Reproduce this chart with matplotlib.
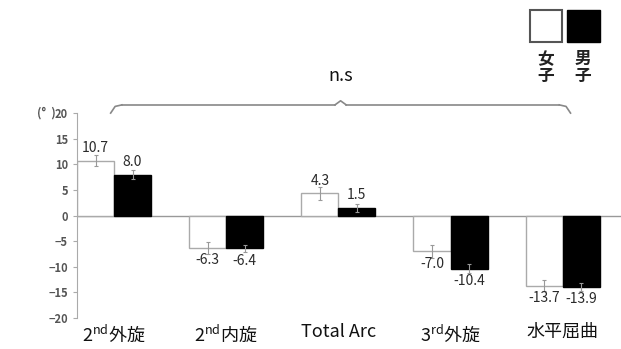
import matplotlib
matplotlib.use('Agg')
import matplotlib.pyplot as plt
from matplotlib.patches import Rectangle
import numpy as np

plt.rcParams['font.family'] = ['Noto Sans CJK JP', 'DejaVu Sans']
plt.rcParams['mathtext.fontset'] = 'custom'
plt.rcParams['mathtext.rm'] = 'Noto Sans CJK JP'

# data
categories = ['2$^{\\mathrm{nd}}$外旋', '2$^{\\mathrm{nd}}$内旋', 'Total Arc', '3$^{\\mathrm{rd}}$外旋', '水平屈曲']
female = [10.7, -6.3, 4.3, -7.0, -13.7]
male = [8.0, -6.4, 1.5, -10.4, -13.9]
female_err = [1.1, 1.2, 1.2, 1.2, 1.1]
male_err = [0.8, 0.7, 0.8, 0.9, 0.8]
yticks = [-20, -15, -10, -5, 0, 5, 10, 15, 20]

fig = plt.figure(figsize=(6.21, 3.49), dpi=100)
ax = fig.add_axes([0.124, 0.089, 0.876, 0.587])

x = np.arange(len(categories))
w = 0.33
grey = '#999999'
ax.bar(x - w / 2, female, w, color='white', edgecolor='#aaaaaa', linewidth=1.0, zorder=2)
ax.bar(x + w / 2, male, w, color='black', edgecolor='black', linewidth=1.0, zorder=2)
ax.errorbar(x - w / 2, female, yerr=female_err, fmt='none', ecolor=grey, elinewidth=0.8,
            capsize=1.5, capthick=0.8, zorder=3)
ax.errorbar(x + w / 2, male, yerr=male_err, fmt='none', ecolor=grey, elinewidth=0.8,
            capsize=1.5, capthick=0.8, zorder=3)

for xs, vals in [(x - w / 2, female), (x + w / 2, male)]:
    for xi, v in zip(xs, vals):
        if v >= 0:
            ax.annotate(f'{v:.1f}', (xi, v), xytext=(0, 4), textcoords='offset points',
                        ha='center', va='bottom', fontsize=10, color='#2a2a2a')
        else:
            ax.annotate(f'{v:.1f}', (xi, v), xytext=(0, -4), textcoords='offset points',
                        ha='center', va='top', fontsize=10, color='#2a2a2a')

ax.axhline(0, color='#999999', linewidth=1.0, zorder=1)
ax.set_xlim(-0.33, 4.52)
ax.set_ylim(-20, 20)
ax.set_yticks(yticks)
ax.tick_params(axis='y', labelcolor='#555555', labelsize=8, length=3, width=0.8, color='#aaaaaa')
for lab in ax.get_yticklabels():
    lab.set_fontweight('bold')
ax.set_xticks([])
for s in ['top', 'right', 'bottom']:
    ax.spines[s].set_visible(False)
ax.spines['left'].set_color('#aaaaaa')
ax.spines['left'].set_linewidth(0.8)

# category labels below the axes
for xi, lab in zip(x, categories):
    ax.text(xi, -21.0, lab, ha='center', va='top', fontsize=13, color='#111111',
            clip_on=False)

# unit label
fig.text(0.075, 0.676, '(°  )', ha='center', va='center', fontsize=8.5, color='#555555',
         fontweight='bold')

# brace with n.s
bx0, bx1, bmid = -0.03, 4.07, 2.02
by, bh = 21.6, 1.6
bc = '#888888'
ax.plot([bx0, bx0 + 0.04, bx0 + 0.1], [by - bh, by - 0.3, by], color=bc, lw=1.2, clip_on=False)
ax.plot([bx0 + 0.1, bmid - 0.05], [by, by], color=bc, lw=1.2, clip_on=False)
ax.plot([bmid - 0.05, bmid, bmid + 0.05], [by, by + 0.8, by], color=bc, lw=1.2, clip_on=False)
ax.plot([bmid + 0.05, bx1 - 0.1], [by, by], color=bc, lw=1.2, clip_on=False)
ax.plot([bx1 - 0.1, bx1 - 0.04, bx1], [by, by - 0.3, by - bh], color=bc, lw=1.2, clip_on=False)
ax.text(bmid, 27.2, 'n.s', ha='center', va='center', fontsize=13, color='#111111',
        clip_on=False)

# legend
fig.patches.append(Rectangle((0.853, 0.880), 0.052, 0.091, transform=fig.transFigure,
                             facecolor='white', edgecolor='#555555', linewidth=1.5))
fig.patches.append(Rectangle((0.913, 0.880), 0.053, 0.091, transform=fig.transFigure,
                             facecolor='black', edgecolor='black', linewidth=1.0))
for xt, chars in [(0.879, '女子'), (0.939, '男子')]:
    fig.text(xt, 0.832, chars[0], ha='center', va='center', fontsize=12, color='#222222',
             fontweight='bold')
    fig.text(xt, 0.782, chars[1], ha='center', va='center', fontsize=12, color='#222222',
             fontweight='bold')

fig.savefig('out.png', dpi=100)
